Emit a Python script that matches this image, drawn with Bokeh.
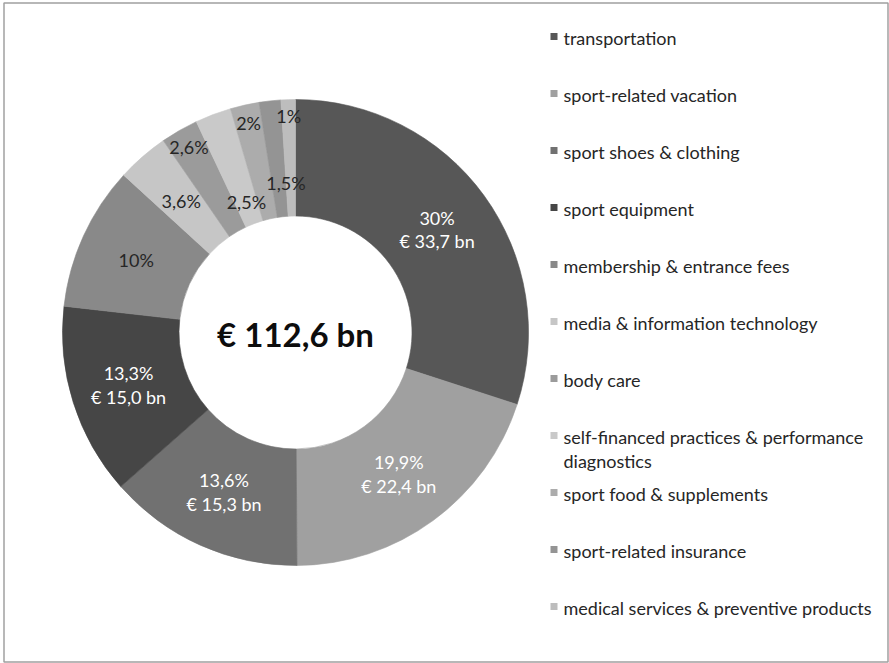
import math
import textwrap

import numpy as np
from bokeh.core.properties import value
from bokeh.embed import file_html
from bokeh.models import ColumnDataSource, Range1d
from bokeh.plotting import figure
from bokeh.resources import INLINE

# Sport-related consumer spending, shares of the total (percent)
categories = [
    "transportation",
    "sport-related vacation",
    "sport shoes & clothing",
    "sport equipment",
    "membership & entrance fees",
    "media & information technology",
    "body care",
    "self-financed practices & performance diagnostics",
    "sport food & supplements",
    "sport-related insurance",
    "medical services & preventive products",
]
shares = [30.0, 19.9, 13.6, 13.3, 10.0, 3.6, 2.6, 2.5, 2.0, 1.5, 1.0]
amounts_bn = [33.7, 22.4, 15.3, 15.0, None, None, None, None, None, None, None]
total_bn = 112.6

colors = ["#575757", "#a0a0a0", "#717171", "#464646", "#898989", "#c6c6c6",
          "#9b9b9b", "#c9c9c9", "#acacac", "#949494", "#bdbdbd"]
label_colors = ["#ffffff"] * 4 + ["#262626"] * 7

W, H = 889, 663
FONT = "Lato"


def sy(y):
    """Screen-style y (down from top) to data y."""
    return H - y


p = figure(width=W, height=H, output_backend="svg", toolbar_location=None,
           x_range=Range1d(0, W), y_range=Range1d(0, H),
           min_border=0, outline_line_color=None, background_fill_color="white")
p.axis.visible = False
p.grid.visible = False

# outer frame
p.quad(left=[3.5], right=[887.5], bottom=[sy(661.5)], top=[sy(2.5)],
       fill_color=None, line_color="#a0a0a0", line_width=1.5)

# donut
cx, cy = 295.0, 332.0
r_in, r_out = 116.5, 233.0
frac = np.array(shares) / sum(shares)
cum_end = np.cumsum(frac)
cum_start = cum_end - frac
start_angle = math.pi / 2 - 2 * math.pi * cum_start
end_angle = math.pi / 2 - 2 * math.pi * cum_end

src = ColumnDataSource(dict(start=start_angle, end=end_angle, color=colors))
p.annular_wedge(x=cx, y=sy(cy), inner_radius=r_in, outer_radius=r_out,
                start_angle="start", end_angle="end", direction="clock",
                fill_color="color", line_color="color", line_width=0.6, source=src)

# data labels (percent, plus amount for the large segments)
label_radius = [175, 175, 175, 175, 175, 174, 214, 139, 215, 150, 217]
label_dx = [0, 0, 0, 0, 0, 0, 0, 0, 0, 7, 0]
lx, ly, lt, lc = [], [], [], []
for i, s in enumerate(shares):
    theta = 2 * math.pi * (cum_start[i] + frac[i] / 2)
    x = cx + label_radius[i] * math.sin(theta) + label_dx[i]
    y = cy - label_radius[i] * math.cos(theta)
    pct = f"{s:g}".replace(".", ",") + "%"
    if amounts_bn[i] is not None:
        amt = f"€ {amounts_bn[i]:.1f} bn".replace(".", ",")
        lines = [(pct, y - 11.75), (amt, y + 11.75)]
    else:
        lines = [(pct, y)]
    for t, yy in lines:
        lx.append(x)
        ly.append(sy(yy))
        lt.append(t)
        lc.append(label_colors[i])
p.text(x=lx, y=ly, text=lt, text_color=lc, text_font=value(FONT),
       text_font_size="18px", text_align="center", text_baseline="middle")

# total in the centre
total_txt = f"€ {total_bn:.1f} bn".replace(".", ",")
p.text(x=[cx], y=[sy(333)], text=[total_txt], text_color="#0d0d0d",
       text_font=value(FONT), text_font_style="bold", text_font_size="33px",
       text_align="center", text_baseline="middle")

# legend
row0, row_gap, wrap_gap = 37.0, 57.0, 24.0
sq_x, txt_x = 553.5, 563.0
mx, my, tx, ty, tt = [], [], [], [], []
for i, name in enumerate(categories):
    yrow = row0 + i * row_gap
    mx.append(sq_x)
    my.append(sy(yrow - 1))
    for j, line in enumerate(textwrap.wrap(name, 38)):
        tx.append(txt_x)
        ty.append(sy(yrow + j * wrap_gap))
        tt.append(line)
p.rect(x=mx, y=my, width=7, height=7, fill_color=colors, line_color=None)
p.text(x=tx, y=ty, text=tt, text_color="#262626", text_font=value(FONT),
       text_font_size="18px", text_align="left", text_baseline="middle")

open("out.html", "w").write(file_html(p, INLINE))
